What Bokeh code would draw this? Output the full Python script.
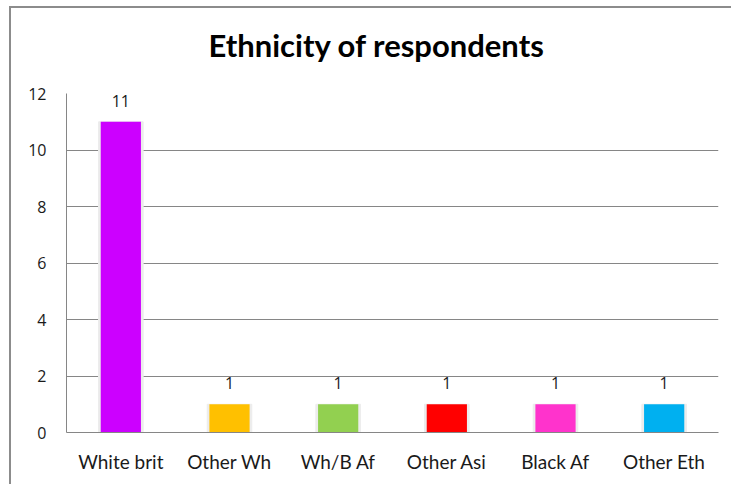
from bokeh.plotting import figure
from bokeh.models import ColumnDataSource, FactorRange
from bokeh.embed import file_html
from bokeh.resources import INLINE
from bokeh.core.properties import value

categories = ["White brit", "Other Wh", "Wh/B Af", "Other Asi", "Black Af", "Other Eth"]
counts = [11, 1, 1, 1, 1, 1]
colors = ["#CC00FF", "#FFC000", "#92D050", "#FF0000", "#FF33CC", "#00B0F0"]
labels = [str(c) for c in counts]
y_ticks = [0, 2, 4, 6, 8, 10, 12]
title_text = "Ethnicity of respondents"

FONT = "Lato"
NUMFONT = "Open Sans"

src = ColumnDataSource(dict(cat=categories, val=counts, col=colors, lab=labels))

p = figure(x_range=FactorRange(*categories, range_padding=0), y_range=(0, 12),
           width=722, height=478, output_backend="svg", toolbar_location=None,
           min_border_left=55, min_border_right=15, min_border_top=85, min_border_bottom=54)
p.styles = {"border-left": "2px solid #8c8c8c", "border-top": "2px solid #8c8c8c",
            "margin-left": "9px", "margin-top": "6px"}

# trailing blank line lifts the title away from the plot frame
p.title.text = title_text + "\n "
p.title.align = "left"
p.title.offset = 142
p.title.vertical_align = "bottom"
p.title.text_line_height = 0.78
p.title.standoff = 0
p.title.text_font = FONT
p.title.text_font_size = "31px"
p.title.text_font_style = "bold"
p.title.text_color = "#000000"

p.outline_line_color = None
p.background_fill_color = "white"
p.border_fill_color = "white"

# shadow
p.vbar(x="cat", top="val", bottom=-0.12, width=0.41, source=src, color="#ececec")
p.vbar(x="cat", top="val", width=0.37, source=src, fill_color="col", line_color=None)

p.text(x="cat", y="val", text="lab", source=src, text_align="center", text_baseline="alphabetic",
       y_offset=-21, text_font=value(NUMFONT), text_font_size="16px", text_color="#1a1a1a")

p.xgrid.grid_line_color = None
p.ygrid.grid_line_color = "#868686"
p.ygrid.grid_line_width = 1
p.yaxis.ticker = y_ticks

for ax in (p.xaxis, p.yaxis):
    ax.axis_line_color = "#868686"
    ax.major_tick_line_color = None
    ax.minor_tick_line_color = None
    ax.major_label_text_color = "#1a1a1a"

p.yaxis.major_label_text_font = NUMFONT
p.yaxis.major_label_text_font_size = "16px"
p.xaxis.major_label_text_font = FONT
p.xaxis.major_label_text_font_size = "19px"
p.yaxis.major_label_standoff = 14
p.xaxis.major_label_standoff = 11

open("out.html", "w").write(file_html(p, INLINE))
